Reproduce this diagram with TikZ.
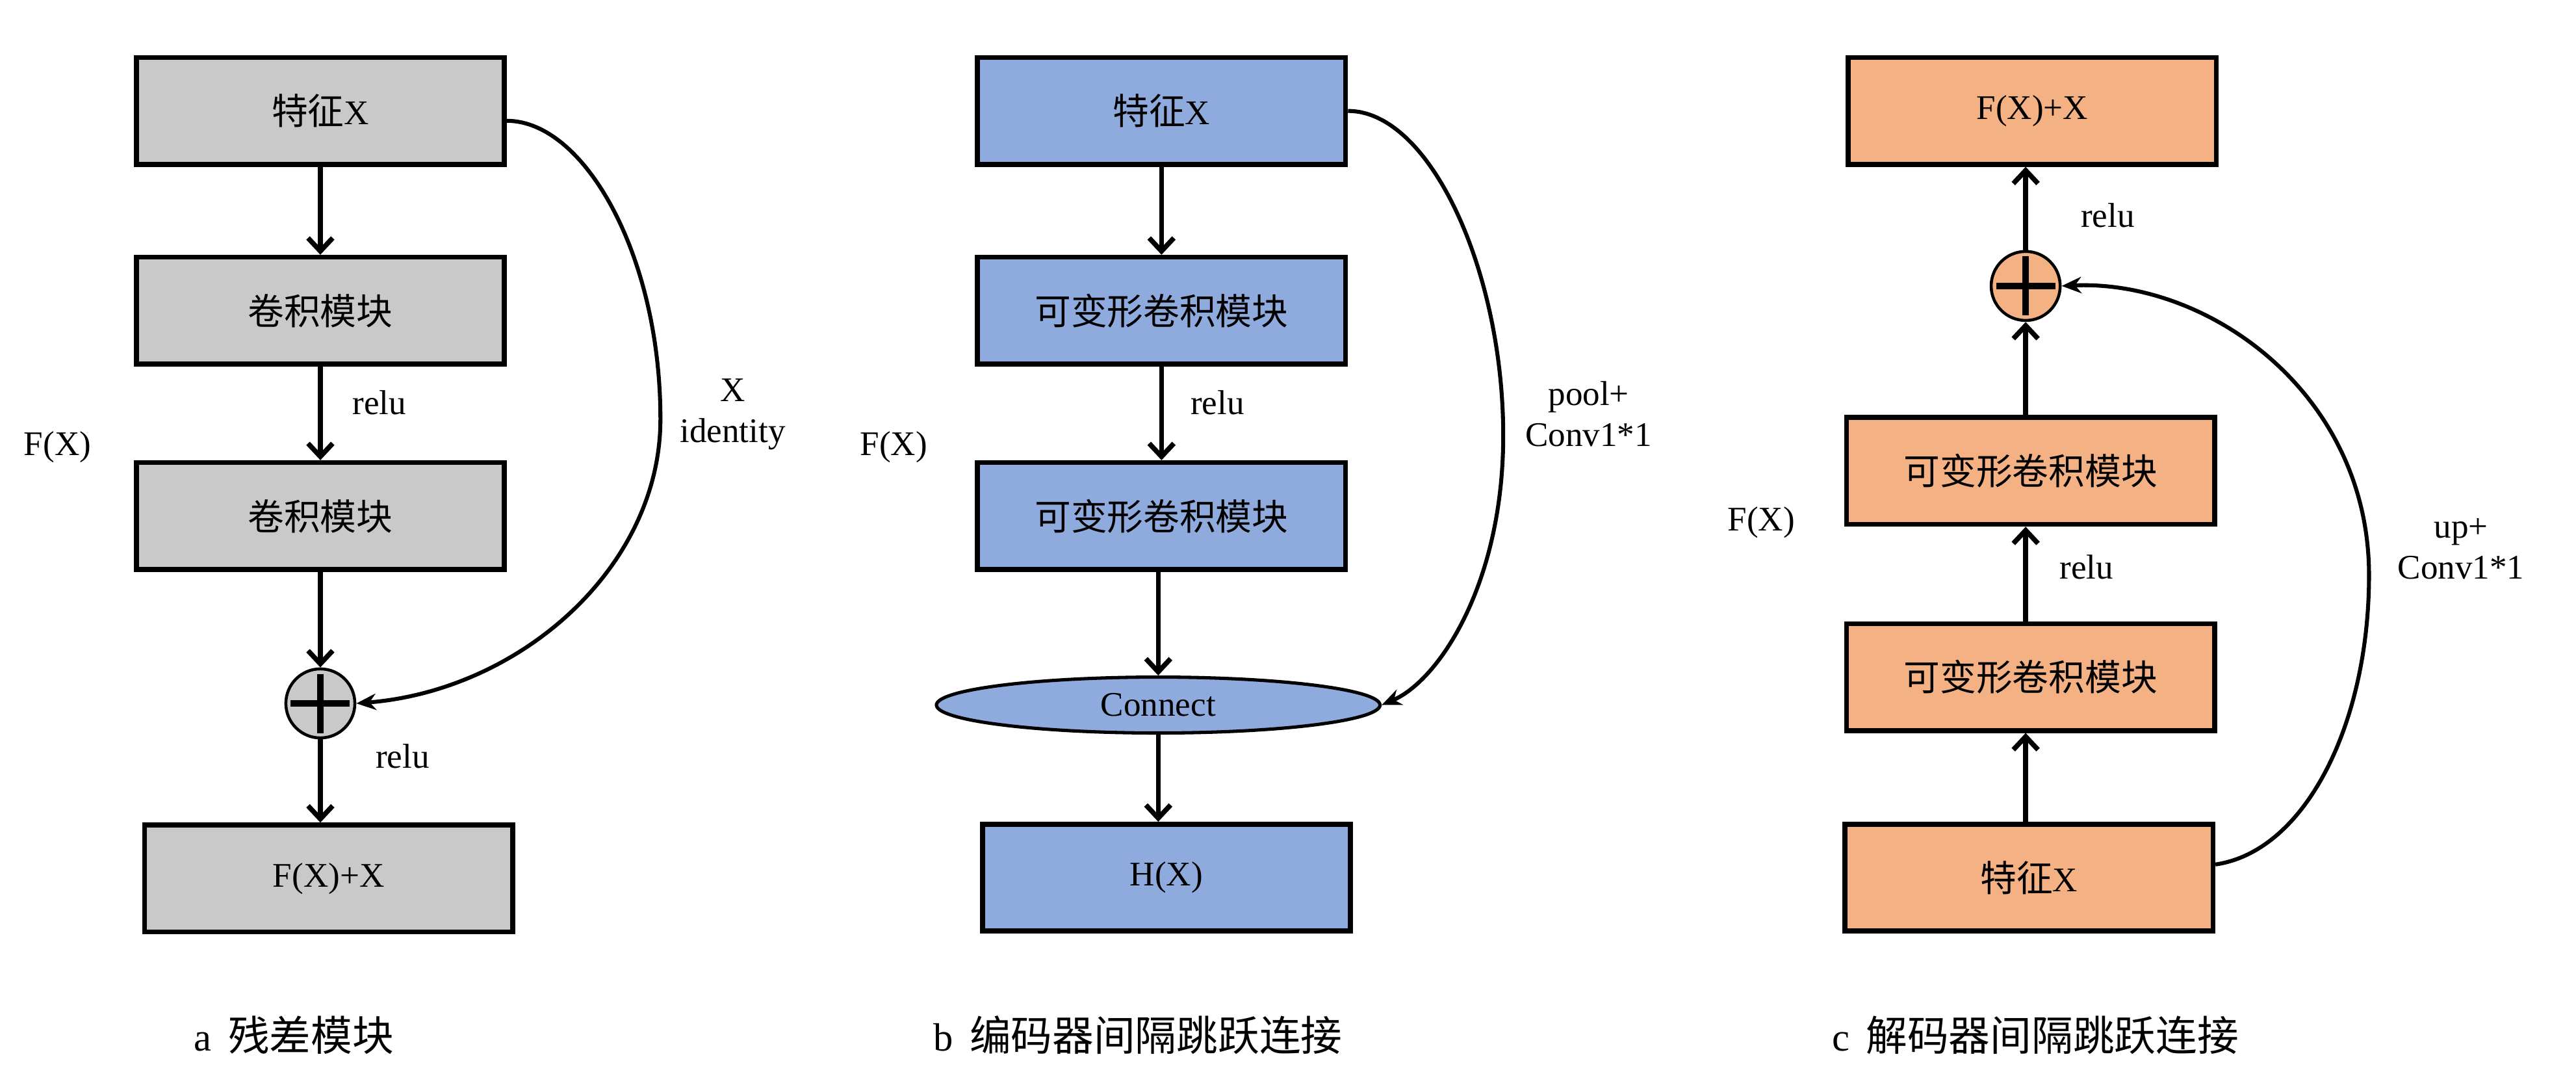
\documentclass[tikz,border=0pt]{standalone}
\usepackage{fontspec}
\setmainfont{Liberation Serif}
\newfontfamily\cjk{Noto Sans CJK SC}[Scale=1.05]
\usetikzlibrary{shapes.geometric, arrows.meta}

\definecolor{boxgray}{RGB}{201,201,201}
\definecolor{boxblue}{RGB}{143,170,220}
\definecolor{boxorange}{RGB}{244,177,131}

\begin{document}
\begin{tikzpicture}[x=1pt, y=-1pt,
    every node/.style={font=\fontsize{21}{25}\selectfont},
    blockbox/.style={draw, line width=3pt, minimum width=224pt, minimum height=65pt, inner sep=0pt},
    plusnode/.style={circle, draw, line width=1.8pt, minimum size=42pt, inner sep=0pt,
        path picture={\draw[line width=3.8pt]
            ([xshift=-18pt]path picture bounding box.center) -- ([xshift=18pt]path picture bounding box.center)
            ([yshift=-18pt]path picture bounding box.center) -- ([yshift=18pt]path picture bounding box.center);}},
    flowarrow/.style={line width=3pt, -{Straight Barb[length=8pt, width=15pt]}},
    skiparrow/.style={line width=2.4pt, -{Stealth[length=12pt, width=10pt]}},
    capnode/.style={anchor=west, inner sep=0pt, font=\fontsize{24}{28}\selectfont}]
    \useasboundingbox (0, 0) rectangle (1568, 660);

    % a: residual block
    \node (a1) [blockbox, fill=boxgray] at (195, 67.5) {{\cjk 特征}X};
    \node (a2) [blockbox, fill=boxgray] at (195, 189) {\cjk 卷积模块};
    \node (a3) [blockbox, fill=boxgray] at (195, 314) {\cjk 卷积模块};
    \node (aplus) [plusnode, fill=boxgray] at (195, 428) {};
    \node (a4) [blockbox, fill=boxgray] at (200, 534.5) {F(X)+X};
    \node (arelu1) at (231, 245) {relu};
    \node (arelu2) at (245, 460) {relu};
    \node (afx) at (35, 272) {F(X)};
    \node (askip) [align=center] at (446, 252) {X\\identity};
    \coordinate (abend) at (402, 255);

    \draw[flowarrow] (a1.south) -- (a2.north);
    \draw[flowarrow] (a2.south) -- (a3.north);
    \draw[flowarrow] (a3.south) -- (aplus.north);
    \draw[flowarrow] (aplus.south) -- (aplus.south |- a4.north);
    \draw[skiparrow] ([yshift=-6pt]a1.east) .. controls +(47,0) and +(0,-100) .. (abend)
        .. controls +(0,90) and +(100,-8) .. (aplus.east);

    % b: encoder skip
    \node (b1) [blockbox, fill=boxblue] at (707, 67.5) {{\cjk 特征}X};
    \node (b2) [blockbox, fill=boxblue] at (707, 189) {\cjk 可变形卷积模块};
    \node (b3) [blockbox, fill=boxblue] at (707, 314) {\cjk 可变形卷积模块};
    \node (bcon) [ellipse, draw, line width=2pt, fill=boxblue, minimum width=270pt, minimum height=34pt, inner sep=0pt] at (705, 429) {Connect};
    \node (b4) [blockbox, fill=boxblue] at (710, 534) {H(X)};
    \node (brelu) at (741, 245) {relu};
    \node (bfx) at (544, 272) {F(X)};
    \node (bskip) [align=center] at (967, 252) {pool+\\Conv1*1};
    \coordinate (bbend) at (915, 265);

    \draw[flowarrow] (b1.south) -- (b2.north);
    \draw[flowarrow] (b2.south) -- (b3.north);
    \draw[flowarrow] (bcon.north |- b3.south) -- (bcon.north);
    \draw[flowarrow] (bcon.south) -- (bcon.south |- b4.north);
    \draw[skiparrow] (b1.east) .. controls +(50,0) and +(0,-100) .. (bbend)
        .. controls +(0,90) and +(35,-15) .. (bcon.east);

    % c: decoder skip
    \node (c1) [blockbox, fill=boxorange] at (1237, 67.5) {F(X)+X};
    \node (cplus) [plusnode, fill=boxorange] at (1233, 174) {};
    \node (c2) [blockbox, fill=boxorange] at (1236, 286.5) {\cjk 可变形卷积模块};
    \node (c3) [blockbox, fill=boxorange] at (1236, 412) {\cjk 可变形卷积模块};
    \node (c4) [blockbox, fill=boxorange] at (1235, 534) {{\cjk 特征}X};
    \node (crelu1) at (1283, 131) {relu};
    \node (crelu2) at (1270, 345) {relu};
    \node (cfx) at (1072, 318) {F(X)};
    \node (cskip) [align=center] at (1498, 334) {up+\\Conv1*1};
    \coordinate (cbend) at (1442, 350);

    \draw[flowarrow] (cplus.south |- c4.north) -- (cplus.south |- c3.south);
    \draw[flowarrow] (cplus.south |- c3.north) -- (cplus.south |- c2.south);
    \draw[flowarrow] (cplus.south |- c2.north) -- (cplus.south);
    \draw[flowarrow] (cplus.north) -- (cplus.north |- c1.south);
    \draw[skiparrow] ([yshift=8pt]c4.east) .. controls +(55,-8) and +(0,90) .. (cbend)
        .. controls +(0,-110) and +(90,-4) .. (cplus.east);

    % captions
    \node (acap) [capnode] at (118, 630) {a\hspace{10pt}{\cjk 残差模块}};
    \node (bcap) [capnode] at (568, 630) {b\hspace{10pt}{\cjk 编码器间隔跳跃连接}};
    \node (ccap) [capnode] at (1115, 630) {c\hspace{10pt}{\cjk 解码器间隔跳跃连接}};
\end{tikzpicture}
\end{document}
